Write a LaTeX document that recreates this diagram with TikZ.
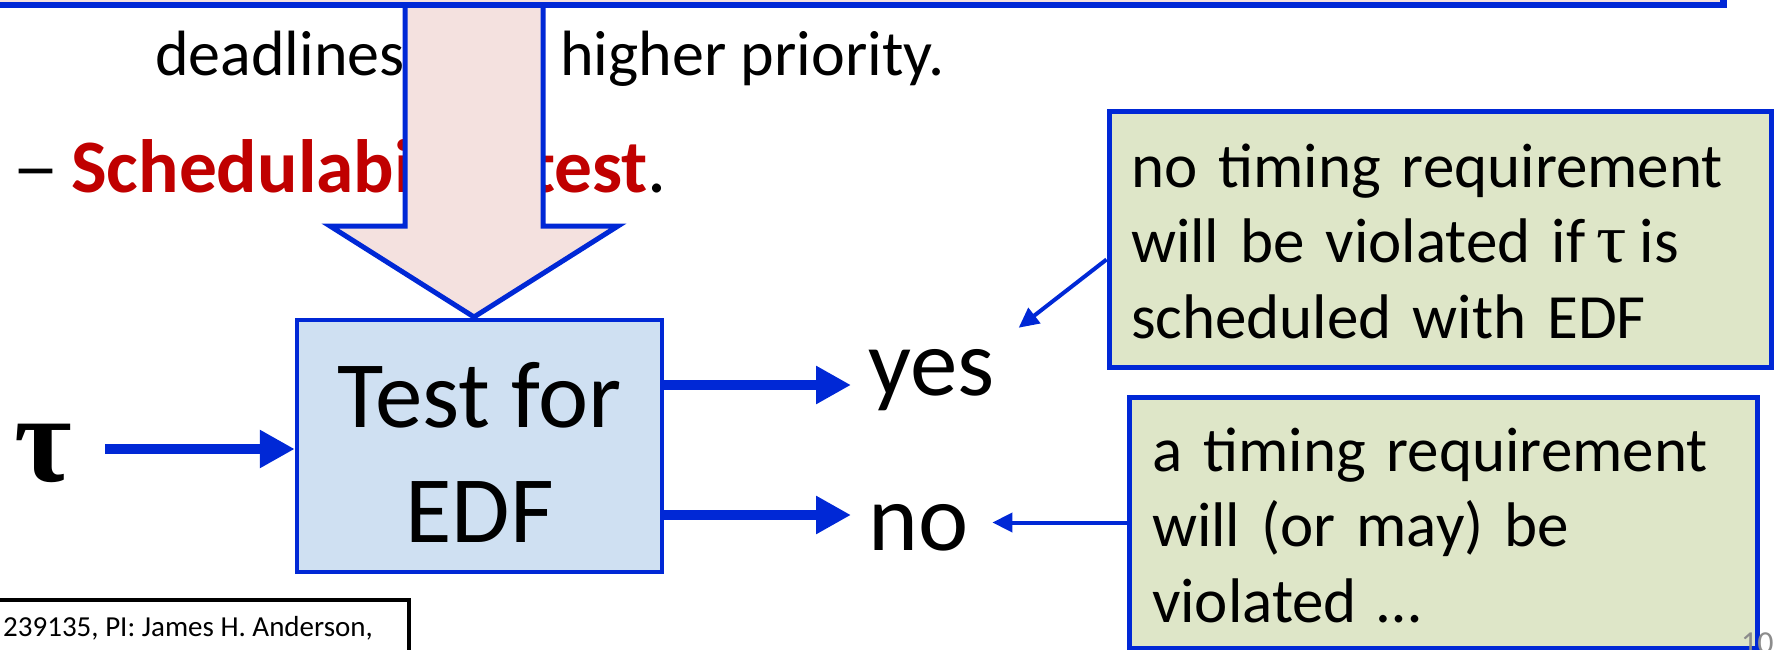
\documentclass[tikz,border=0pt]{standalone}
\usepackage{fontspec}
\setmainfont{Carlito}
\newfontfamily\greekserif{Liberation Serif}
\usetikzlibrary{arrows.meta}

\definecolor{edgeblue}{RGB}{0,40,214}
\definecolor{testfill}{RGB}{207,224,242}
\definecolor{notefill}{RGB}{222,230,200}
\definecolor{arrowfill}{RGB}{244,225,223}
\definecolor{keyred}{RGB}{192,0,0}
\definecolor{pagegray}{RGB}{140,140,140}

\newcommand{\fsz}[2]{\fontsize{#1pt}{#2pt}\selectfont}

\tikzset{
  word/.style={inner sep=0pt, anchor=base west},
  bigarrow/.style={draw=edgeblue, fill=arrowfill, line width=5pt, line join=miter, miter limit=10},
  topbox/.style={draw=edgeblue, fill=arrowfill, line width=6.5pt},
  testbox/.style={rectangle, draw=edgeblue, fill=testfill, line width=4.5pt,
    inner sep=0pt, align=center, font=\fsz{95}{115}},
  notebox/.style={rectangle, draw=edgeblue, fill=notefill, line width=5pt,
    inner ysep=0pt, align=left, font=\fsz{63}{75.5}},
  flow/.style={edgeblue, line width=10pt, -{Triangle[length=35pt,width=36pt]}},
  pointer/.style={edgeblue, line width=4pt, -{Triangle[length=20pt,width=19pt]}},
  grantbox/.style={draw=black, line width=4pt}
}

\begin{document}
\begin{tikzpicture}[x=1pt, y=-1pt]
\useasboundingbox (0,0) rectangle (1775,650);

% bullet text behind the big arrow
\node[word, font=\fsz{64}{76}] (dl) at (155,76) {deadlines};
\node[word, font=\fsz{64}{76}] (hp) at (560,76) {higher priority.};
\node[word, font=\fsz{75.5}{90}] (sched) at (12,193)
  {\makebox[59pt][l]{\scalebox{1.25}[1]{–}}\textcolor{keyred}{\bfseries Schedulability test}.};

% big block arrow coming down from the box above
\draw[bigarrow] (405,5) -- (405,226) -- (330,226) -- (474,317)
  -- (618,226) -- (543,226) -- (543,5);
\draw[topbox] (-50,-100) rectangle (1723.5,5);

% the test
\node[testbox, minimum width=365pt, minimum height=252pt] (test) at (479.5,446)
  {\rule{0pt}{77pt}Test for\\EDF};

% input task
\node[inner sep=0pt, anchor=base, font=\fsz{125}{140}] (tau) at (43,481)
  {\greekserif\bfseries τ};
\coordinate (tauin) at ([yshift=-3pt]test.west);
\draw[flow, shorten <=33pt] (tauin -| tau.east) -- (tauin);

% outcomes
\node[word, font=\fsz{95}{114}] (yes) at (868,395) {yes};
\node[word, font=\fsz{95}{114}] (no) at (868,550) {no};
\coordinate (yesfrom) at ([yshift=61pt]test.east);
\coordinate (nofrom) at ([yshift=-69pt]test.east);
\draw[flow, shorten >=17pt] (yesfrom) -- (yesfrom -| yes.west);
\draw[flow, shorten >=17pt] (nofrom) -- (nofrom -| no.west);

% explanations
\node[notebox, minimum width=662pt, minimum height=255pt, inner xsep=22pt,
      text width=618pt] (note1) at (1440,239.5)
  {\rule{0pt}{50pt}no timing requirement\\
   will be violated if\hspace{11pt}\scalebox{1.2}[1.1]{\greekserif τ}\hspace{13pt}is\\
   scheduled with EDF\rule[-4pt]{0pt}{4pt}};
\node[notebox, minimum width=628pt, minimum height=251pt, inner xsep=23pt,
      text width=582pt] (note2) at (1443,522.5)
  {\rule{0pt}{52pt}a timing requirement\\
   will (or may) be\\
   violated …\rule[-4pt]{0pt}{4pt}};
\draw[pointer] ([yshift=-20pt]note1.west) -- ([xshift=24pt,yshift=21pt]yes.north east);
\draw[pointer, shorten >=24pt] (note2.west) -- (note2.west -| no.east);

% footer
\draw[grantbox] (-20,600) rectangle (409,700);
\node[inner sep=0pt, anchor=base east, font=\fsz{29}{35}] (grant) at (373,636)
  {239135, PI: James H. Anderson,};
\node[word, text=pagegray, font=\fsz{32}{38}] (pg) at (1741,653) {10};
\end{tikzpicture}
\end{document}
